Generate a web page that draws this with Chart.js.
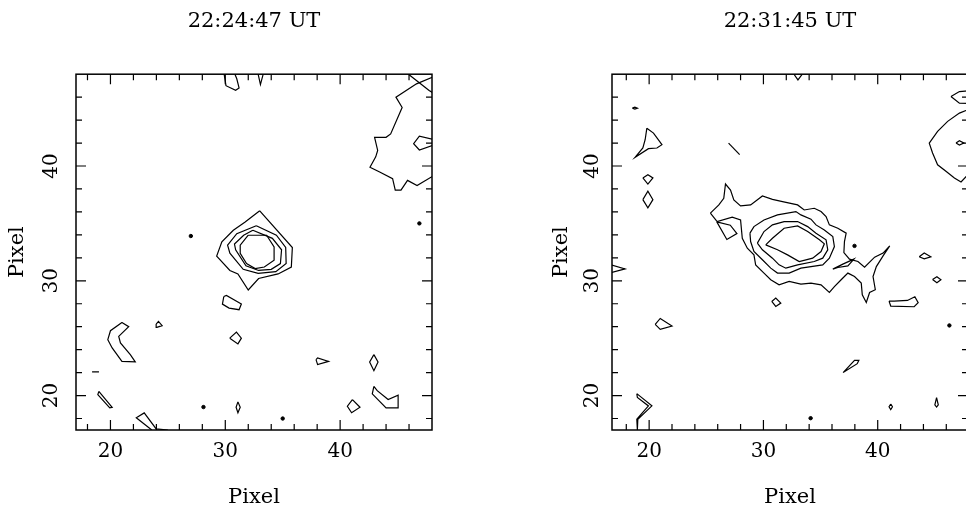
<!DOCTYPE html>
<html>
<head>
<meta charset="utf-8">
<script src="https://cdn.jsdelivr.net/npm/chart.js@4"></script>
<style>
html, body { margin: 0; padding: 0; background: #fff; overflow: hidden; width: 966px; height: 507px; }
canvas { position: absolute; top: 0; }
#left { left: 0; }
#right { left: 520px; }
</style>
</head>
<body>
<canvas id="left" width="480" height="510"></canvas>
<canvas id="right" width="460" height="510"></canvas>
<script>
// tick marks every 2 pixels, labels on the tens
const tickValues = [18, 20, 22, 24, 26, 28, 30, 32, 34, 36, 38, 40, 42, 44, 46];

// ---- 22:24:47 UT contours, [x, y] in pixel units ----
const leftCore1 = [[33.0,36.1],[35.84,32.9],[35.75,31.2],[34.6,30.6],[32.9,30.2],[32.0,29.2],[31.1,30.6],[30.4,30.9],[29.25,32.15],[29.7,33.4],[30.7,34.4],[31.7,35.1]];
const leftCore2 = [[32.7,34.8],[34.45,33.97],[35.26,32.9],[35.3,31.5],[34.4,30.8],[32.86,30.64],[31.56,31.0],[30.4,32.4],[30.2,33.1],[31.0,34.1]];
const leftCore3 = [[32.4,34.4],[34.1,33.7],[34.9,32.7],[34.8,31.5],[34.0,31.0],[32.9,30.9],[31.8,31.3],[30.9,32.7],[30.8,33.2],[31.6,33.97]];
const leftCore4 = [[32.0,33.97],[33.6,33.97],[34.25,32.96],[34.25,31.8],[33.4,31.2],[32.6,31.07],[31.85,31.5],[31.3,32.4],[31.3,33.1]];
const leftCrescent = [[21.0,26.37],[20.0,25.65],[19.77,24.87],[20.15,24.15],[21.0,22.98],[22.16,22.93],[21.73,23.57],[20.87,24.58],[20.72,25.16],[21.59,26.0]];
const leftSmallTri = [[23.98,26.23],[24.18,26.46],[24.5,26.09],[24.04,25.94]];
const leftSliver = [[18.99,20.37],[18.9,20.09],[19.94,18.93],[20.15,18.98]];
const leftPent = [[29.87,28.63],[30.1,28.72],[31.4,27.97],[31.2,27.48],[30.33,27.62],[29.75,27.97]];
const leftDiamond1 = [[30.39,25.0],[30.97,25.53],[31.4,25.0],[31.1,24.5]];
const leftOval = [[31.1,19.45],[31.3,18.98],[31.1,18.5],[30.94,18.98]];
const leftDrop = [[37.9,23.13],[38.04,23.28],[38.99,22.98],[38.04,22.7]];
const leftDiamond2 = [[42.94,23.57],[43.3,22.93],[42.94,22.17],[42.57,22.93]];
const leftDiamond3 = [[41.07,19.65],[41.73,18.98],[41.0,18.5],[40.63,19.07]];
const leftHook = [[42.94,20.81],[42.8,20.15],[44.0,18.93],[45.05,18.93],[45.05,20.03],[44.18,19.65],[43.23,20.43]];
// open pieces running into the frame
const leftTopU = [[29.9,48.0],[30.06,47.0],[30.9,46.6],[31.2,46.8],[31.0,47.6],[30.84,48.0]];
const leftTopV = [[32.86,48.0],[33.06,47.1],[33.3,48.0]];
const leftCorner = [[45.95,48.0],[47.75,46.58],[48.2,46.3]];
const leftEdgeBig = [[48.2,47.8],[46.65,47.16],[44.86,46.0],[45.4,45.1],[44.4,42.8],[44.0,42.5],[43.0,42.5],[43.27,41.36],[43.1,40.8],[42.6,39.9],[43.4,39.5],[44.57,38.9],[44.8,37.9],[45.3,37.9],[45.87,38.75],[46.7,38.3],[48.2,39.2]];
const leftEdgeDiamond = [[48.2,42.3],[46.9,42.6],[46.4,41.94],[46.9,41.4],[48.2,41.85]];
const leftBottomTri = [[25.0,17.0],[23.98,17.1],[22.94,18.49],[22.25,18.06],[23.6,17.0]];
const leftDash = [[18.4,22.06],[19.0,22.06]];
const leftDots = [[27.0,33.9],[46.9,35.0],[35.0,18.0],[28.1,19.0]];

// ---- 22:31:45 UT contours ----
const rightCore1 = [[25.36,35.89],[26.1,36.61],[26.53,37.19],[26.68,38.43],[27.12,37.91],[27.41,37.04],[28.0,36.52],[28.88,36.61],[29.91,37.39],[30.79,37.1],[31.67,36.9],[32.99,36.61],[33.57,36.17],[34.45,36.32],[35.04,36.03],[35.48,35.59],[35.77,34.87],[36.51,34.58],[37.24,34.15],[37.09,33.42],[37.04,32.46],[37.53,31.89],[38.27,31.68],[38.85,31.19],[39.73,32.06],[40.47,32.41],[41.05,33.04],[40.47,32.17],[39.88,31.24],[39.59,30.37],[39.79,29.22],[39.29,28.98],[39.0,28.11],[38.65,28.78],[38.56,29.8],[37.97,30.37],[37.39,30.67],[36.8,30.09],[36.21,29.5],[35.77,28.98],[35.04,29.65],[34.16,29.8],[33.28,29.71],[32.25,29.94],[31.37,29.65],[30.64,30.09],[30.05,30.67],[29.32,31.39],[29.17,32.26],[28.59,32.84],[28.15,33.71],[28.0,35.3],[27.27,35.54],[25.95,35.16]];
const rightCore2 = [[28.82,34.15],[29.17,34.72],[30.05,35.3],[31.23,35.74],[32.84,36.03],[33.28,35.74],[34.16,35.37],[34.6,34.87],[35.33,34.43],[36.07,33.85],[36.21,32.98],[35.77,31.97],[35.19,31.39],[33.28,31.1],[32.25,30.67],[31.23,30.67],[30.64,31.1],[29.91,31.83],[29.17,32.55],[28.88,33.42]];
const rightCore3 = [[29.47,33.28],[30.05,34.29],[30.79,34.87],[31.81,35.16],[32.99,35.16],[33.87,34.72],[34.6,34.15],[35.48,33.57],[35.63,32.7],[35.19,31.97],[34.45,31.68],[32.99,31.39],[31.96,31.1],[31.37,31.39],[30.79,31.97],[29.91,32.7]];
const rightCore4 = [[30.2,33.13],[30.79,33.71],[31.81,34.58],[32.99,34.78],[33.87,34.29],[34.9,33.57],[35.33,33.22],[35.04,32.55],[34.31,31.97],[33.13,31.68],[32.11,32.26],[31.23,32.7]];
const rightWedge = [[36.07,31.02],[36.95,31.45],[37.92,31.89],[37.39,31.3],[36.51,31.16]];
const rightLeftTri = [[25.92,35.13],[26.8,33.6],[27.68,34.12],[27.1,34.84]];
const rightBelowDiamond = [[30.73,28.2],[31.08,28.5],[31.52,28.06],[31.08,27.77]];
const rightTopPent = [[46.41,46.06],[47.15,46.49],[48.6,46.6],[48.6,45.45],[47.15,45.48]];
const rightEdgeBig = [[48.6,44.95],[47.88,44.9],[47.15,44.61],[46.12,43.89],[45.24,43.02],[44.51,42.0],[44.8,41.13],[45.24,40.11],[45.97,39.54],[46.71,38.96],[47.29,38.61],[47.88,39.24],[48.6,39.3]];
const rightInnerOval = [[46.85,42.0],[47.15,42.2],[47.53,42.0],[47.15,41.83]];
const rightEll = [[43.63,32.09],[44.07,32.43],[44.65,32.09],[44.07,31.91]];
const rightDiamond = [[44.8,30.11],[45.18,30.35],[45.53,30.09],[45.18,29.83]];
const rightBar = [[40.99,28.23],[41.14,27.8],[43.19,27.74],[43.54,28.09],[43.25,28.61],[42.6,28.29],[41.43,28.23]];
const rightNeedle = [[36.97,22.0],[37.97,23.07],[38.35,23.07],[38.21,22.78]];
const rightOval = [[41.14,19.27],[41.29,19.02],[41.14,18.77],[40.99,19.02]];
const rightDrop = [[45.15,19.83],[45.3,19.2],[45.15,19.0],[45.0,19.2]];
const rightBlob = [[19.8,43.3],[20.38,42.87],[21.12,41.86],[20.68,41.57],[19.94,41.51],[18.77,40.76],[19.45,41.57],[19.65,42.29]];
const rightDiaA = [[19.45,38.96],[19.89,39.24],[20.33,38.96],[19.89,38.43]];
const rightDiaB = [[19.45,37.07],[19.89,37.8],[20.33,37.07],[19.89,36.35]];
const rightTri = [[20.53,26.2],[20.97,26.72],[22.0,26.06],[20.97,25.77]];
const rightV = [[18.92,20.17],[20.24,19.1],[19.01,17.94],[18.97,17.0],[18.92,17.94],[19.94,19.1],[18.97,19.83]];
const rightTiny = [[18.53,45.04],[18.75,45.12],[18.97,45.04],[18.75,44.96]];
const rightDash = [[26.95,42.0],[27.92,40.99]];
const rightTopV = [[32.67,48.0],[33.02,47.5],[33.4,48.0]];
const rightEdgeTri = [[16.6,31.42],[17.89,31.04],[16.6,30.7]];
const rightDots = [[37.97,33.04],[46.27,26.11],[34.13,18.03]];

const serif = 'DejaVu Serif';

// boxed frame with inward ticks on all four sides
const frame = {
  id: 'frame',
  afterDatasetsDraw(chart) {
    const { ctx, chartArea: a, scales: { x, y } } = chart;
    ctx.save();
    ctx.strokeStyle = '#000';
    ctx.lineWidth = 1.5;
    ctx.strokeRect(a.left, a.top, a.right - a.left, a.bottom - a.top);
    ctx.lineWidth = 1.2;
    ctx.beginPath();
    x.ticks.forEach(t => {
      const p = x.getPixelForValue(t.value);
      const len = t.value % 10 === 0 ? 10 : 6;
      ctx.moveTo(p, a.bottom); ctx.lineTo(p, a.bottom - len);
      ctx.moveTo(p, a.top); ctx.lineTo(p, a.top + len);
    });
    y.ticks.forEach(t => {
      const p = y.getPixelForValue(t.value);
      const len = t.value % 10 === 0 ? 10 : 6;
      ctx.moveTo(a.left, p); ctx.lineTo(a.left + len, p);
      ctx.moveTo(a.right, p); ctx.lineTo(a.right - len, p);
    });
    ctx.stroke();
    ctx.restore();
  }
};

function lineSet(pts) {
  return {
    data: pts.map(([x, y]) => ({ x, y })),
    showLine: true,
    borderColor: '#000',
    borderWidth: 1.2,
    pointRadius: 0,
    fill: false,
    tension: 0
  };
}

function makePanel(id, cfg) {
  const datasets = [];
  cfg.loops.forEach(p => datasets.push(lineSet(p.concat([p[0]]))));
  cfg.paths.forEach(p => datasets.push(lineSet(p)));
  datasets.push({
    data: cfg.dots.map(([x, y]) => ({ x, y })),
    showLine: false,
    pointRadius: 1.7,
    backgroundColor: '#000',
    borderColor: '#000'
  });

  return new Chart(document.getElementById(id), {
    type: 'scatter',
    data: { datasets },
    options: {
      responsive: false,
      animation: false,
      events: [],
      layout: { padding: { right: cfg.padRight } },
      plugins: {
        legend: { display: false },
        tooltip: { enabled: false },
        title: {
          display: true,
          text: cfg.title,
          fullSize: false,
          color: '#000',
          font: { family: serif, size: 21, weight: 'normal' },
          padding: { top: 9, bottom: 40 }
        }
      },
      scales: {
        x: {
          type: 'linear',
          min: cfg.xMin,
          max: cfg.xMax,
          grid: { display: false, drawTicks: false },
          border: { display: false },
          afterBuildTicks: s => { s.ticks = tickValues.map(v => ({ value: v })); },
          afterFit: s => { s.height = 80; },
          ticks: {
            autoSkip: false, minRotation: 0, maxRotation: 0, padding: 10, color: '#000',
            font: { family: serif, size: 20 },
            callback: v => (v % 10 === 0 ? String(v) : '')
          },
          title: {
            display: true, text: 'Pixel', color: '#000',
            font: { family: serif, size: 21 },
            padding: { top: 0, bottom: 0 }
          }
        },
        y: {
          type: 'linear',
          min: 17,
          max: 48,
          grid: { display: false, drawTicks: false },
          border: { display: false },
          afterBuildTicks: s => { s.ticks = tickValues.map(v => ({ value: v })); },
          afterFit: s => { s.width = cfg.yWidth; },
          ticks: {
            autoSkip: false, minRotation: 90, maxRotation: 90, crossAlign: 'center',
            padding: cfg.yTickPad, color: '#000',
            font: { family: serif, size: 20 },
            callback: v => (v % 10 === 0 ? String(v) : '')
          },
          title: {
            display: true, text: 'Pixel', color: '#000',
            font: { family: serif, size: 21 },
            padding: { top: cfg.yTitlePad, bottom: 0 }
          }
        }
      }
    },
    plugins: [frame]
  });
}

makePanel('left', {
  title: '22:24:47 UT',
  xMin: 17, xMax: 48,
  yWidth: 76, yTickPad: 11, yTitlePad: 5, padRight: 48,
  loops: [leftCore1, leftCore2, leftCore3, leftCore4, leftCrescent, leftSmallTri, leftSliver, leftPent,
          leftDiamond1, leftOval, leftDrop, leftDiamond2, leftDiamond3, leftHook],
  paths: [leftTopU, leftTopV, leftCorner, leftEdgeBig, leftEdgeDiamond, leftBottomTri, leftDash],
  dots: leftDots
});

makePanel('right', {
  title: '22:31:45 UT',
  xMin: 16.75, xMax: 47.9,
  yWidth: 92, yTickPad: 6, yTitlePad: 29, padRight: 12,
  loops: [rightCore1, rightCore2, rightCore3, rightCore4, rightWedge, rightLeftTri, rightBelowDiamond,
          rightTopPent, rightEdgeBig, rightInnerOval, rightEll, rightDiamond, rightBar, rightNeedle,
          rightOval, rightDrop, rightBlob, rightDiaA, rightDiaB, rightTri, rightV, rightTiny],
  paths: [rightDash, rightTopV, rightEdgeTri],
  dots: rightDots
});
</script>
</body>
</html>
